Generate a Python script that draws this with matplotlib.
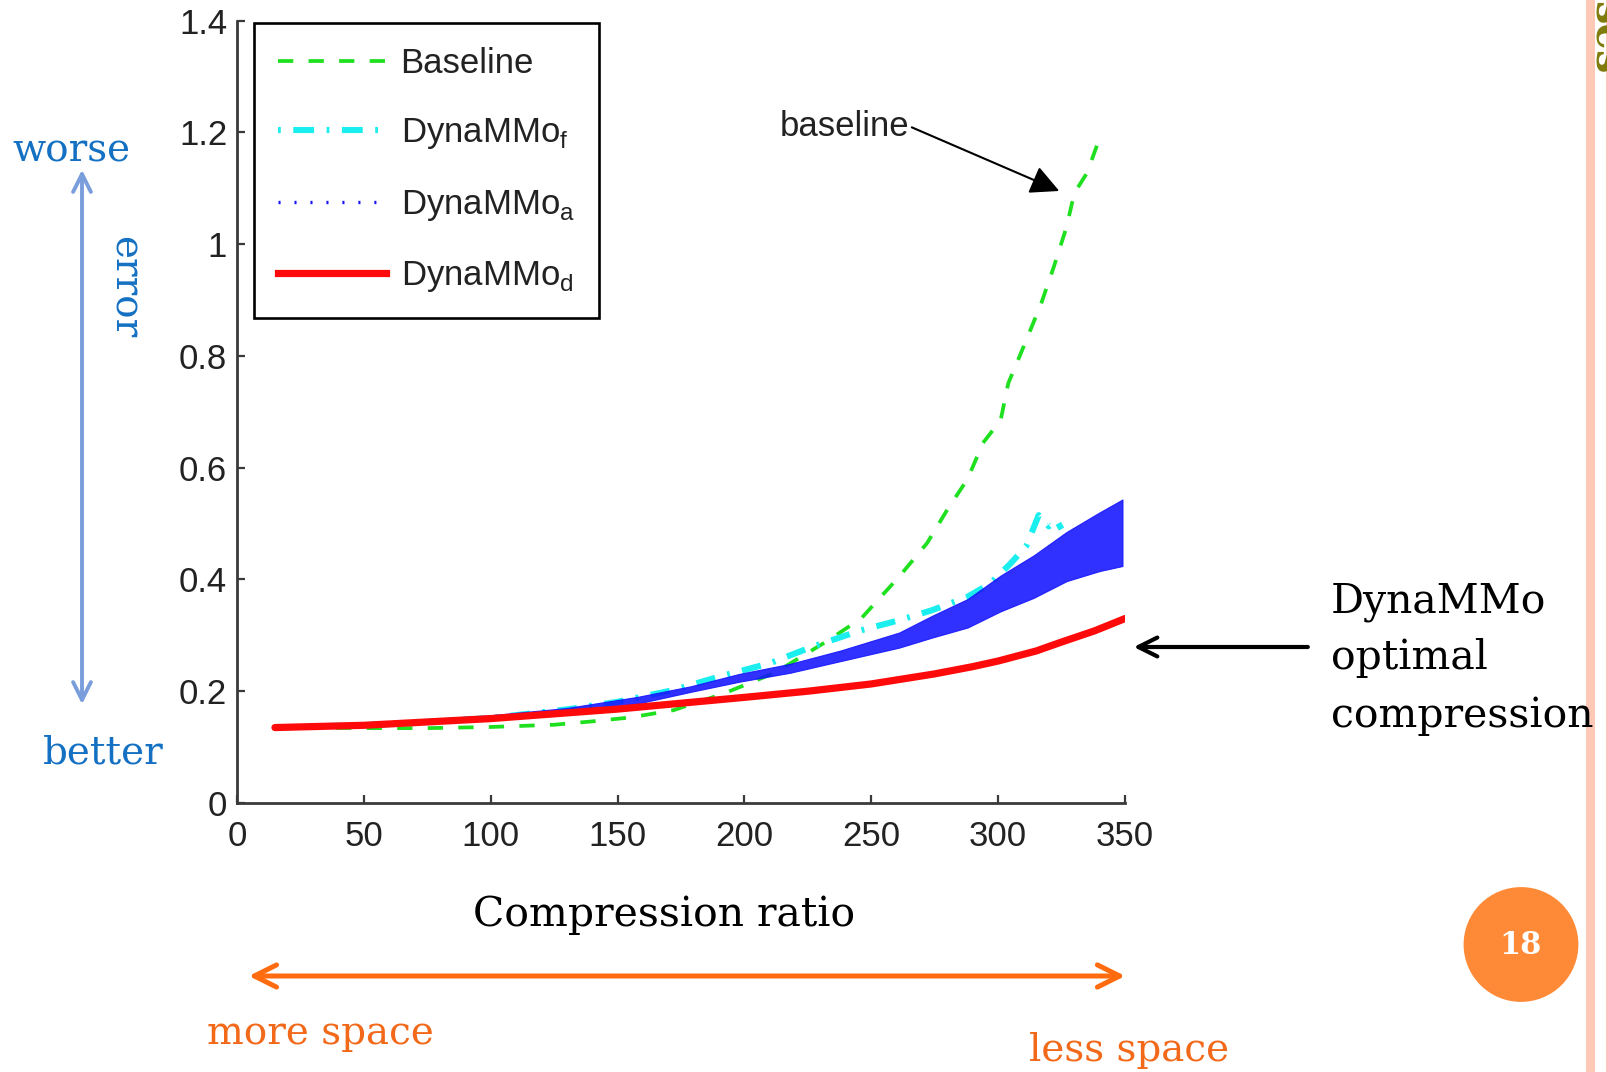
import matplotlib
matplotlib.use('Agg')
import matplotlib.pyplot as plt
from matplotlib.patches import FancyArrowPatch, Circle, Rectangle
from matplotlib.lines import Line2D

# ---------------- data ----------------
base_x = [15, 50, 75, 100, 125, 140, 155, 172, 192, 212, 232, 246, 261, 272, 280,
          288, 294, 301, 304, 310, 317, 322, 327, 330, 335, 339]
base_y = [0.135, 0.134, 0.134, 0.136, 0.140, 0.146, 0.153, 0.166, 0.196, 0.233, 0.288,
          0.330, 0.405, 0.465, 0.525, 0.580, 0.644, 0.685, 0.751, 0.816, 0.894, 0.960,
          1.031, 1.091, 1.127, 1.177]

f_x = [15, 60, 100, 131, 150, 172, 190, 210, 227, 246, 261, 274, 288, 297, 305, 311,
       316, 320, 323, 325]
f_y = [0.135, 0.141, 0.152, 0.168, 0.181, 0.202, 0.226, 0.250, 0.280, 0.309, 0.327,
       0.345, 0.369, 0.393, 0.429, 0.459, 0.515, 0.495, 0.506, 0.490]

a_x = [15, 50, 100, 130, 158, 179, 198, 218, 238, 261, 274, 288, 301, 314, 327, 340, 349]
a_lo = [0.133, 0.137, 0.150, 0.162, 0.178, 0.199, 0.217, 0.233, 0.254, 0.278,
        0.296, 0.314, 0.343, 0.367, 0.397, 0.415, 0.424]
a_hi = [0.138, 0.143, 0.157, 0.170, 0.190, 0.209, 0.231, 0.249, 0.273, 0.305,
        0.335, 0.365, 0.407, 0.443, 0.485, 0.520, 0.543]

d_x = [15, 50, 100, 150, 200, 225, 250, 275, 290, 300, 315, 325, 338, 350]
d_y = [0.135, 0.139, 0.151, 0.168, 0.189, 0.200, 0.213, 0.231, 0.244, 0.254, 0.272,
       0.288, 0.308, 0.330]

x_ticks = [0, 50, 100, 150, 200, 250, 300, 350]
y_ticks = [0, 0.2, 0.4, 0.6, 0.8, 1.0, 1.2, 1.4]
y_tick_labels = ['0', '0.2', '0.4', '0.6', '0.8', '1', '1.2', '1.4']
series_labels = ['Baseline', r'DynaMMo$_\mathregular{f}$',
                 r'DynaMMo$_\mathregular{a}$', r'DynaMMo$_\mathregular{d}$']

# ---------------- style ----------------
plt.rcParams['font.family'] = ['Liberation Sans', 'DejaVu Sans']
plt.rcParams['mathtext.fontset'] = 'custom'
plt.rcParams['mathtext.rm'] = 'Liberation Sans'
plt.rcParams['lines.scale_dashes'] = False

GREEN = '#1ee01e'
CYAN = '#1aeeee'
BLUE = '#1414ff'
RED = '#ff0a0a'
SERIF = ['DejaVu Serif']
SLIDE_BLUE = '#1470c2'
ORANGE = '#f2691a'

W, H = 1608, 1072
fig = plt.figure(figsize=(W / 100, H / 100), dpi=100)
ax = fig.add_axes([236.9 / W, 1 - 803 / H, (1125 - 236.9) / W, (803 - 20.5) / H])

ax.plot(base_x, base_y, color=GREEN, lw=2.7, dashes=(11, 11), zorder=2)
ax.plot(f_x, f_y, color=CYAN, lw=4.4, dashes=(14, 9, 2, 9), zorder=3)
ax.fill_between(a_x, a_lo, a_hi, color=BLUE, lw=0.8, alpha=0.88, zorder=4)
ax.plot(d_x, d_y, color=RED, lw=5.2, solid_capstyle='round', zorder=5)

ax.set_xlim(0, 350)
ax.set_ylim(0, 1.4)
ax.set_xticks(x_ticks)
ax.set_yticks(y_ticks)
ax.set_yticklabels(y_tick_labels)
for s in ['top', 'right']:
    ax.spines[s].set_visible(False)
for s in ['left', 'bottom']:
    ax.spines[s].set_linewidth(2)
    ax.spines[s].set_color('#3a3a3a')
ax.tick_params(direction='in', length=6, width=1.6, color='#3a3a3a',
               labelsize=25, labelcolor='#222222')
ax.tick_params(axis='x', pad=12)
ax.tick_params(axis='y', pad=7)

handles = [Line2D([], [], color=GREEN, lw=2.7, dashes=(11, 11)),
           Line2D([], [], color=CYAN, lw=4.4, dashes=(2, 9, 15, 9)),
           Line2D([], [], color=BLUE, lw=2.4, dashes=(1.5, 10)),
           Line2D([], [], color=RED, lw=5.2)]
leg = ax.legend(handles, series_labels, loc='upper left',
                bbox_to_anchor=((254 - 236.9) / 888.1, 1 - 2 / 782.5),
                borderaxespad=0, fontsize=25, handlelength=3.1, handletextpad=0.42,
                labelspacing=1.05, borderpad=0.7, frameon=True, fancybox=False,
                framealpha=1, edgecolor='black')
leg.get_frame().set_linewidth(1.9)
for t in leg.get_texts():
    t.set_color('#222222')

ax.annotate('baseline', xy=(324.1, 1.095), xytext=(213.8, 1.211),
            ha='left', va='center', fontsize=25, color='#222222',
            arrowprops=dict(arrowstyle='-|>', color='black', lw=1.5,
                            mutation_scale=44, shrinkA=0, shrinkB=0, relpos=(1, 0.5)))

# ---------------- slide decorations (pixel overlay) ----------------
ov = fig.add_axes([0, 0, 1, 1], zorder=10)
ov.set_xlim(0, W)
ov.set_ylim(H, 0)
ov.axis('off')
ov.patch.set_alpha(0)

ov.add_patch(Rectangle((1586.5, 0), 8.5, H, color='#fdc8b5', lw=0))
ov.add_patch(Rectangle((1606, 0), 2, H, color='#fdc8b5', lw=0))
ov.text(1606, 38, 'ses', rotation=-90, color='#7f7b0c', fontsize=30,
        fontweight='bold', family=SERIF, ha='center', va='center')

ov.text(664, 926, 'Compression ratio', family=SERIF, fontsize=29.5, color='black',
        ha='center', va='baseline')

ov.text(71.5, 161, 'worse', family=SERIF, fontsize=28, color=SLIDE_BLUE,
        ha='center', va='baseline')
ov.text(103.5, 764, 'better', family=SERIF, fontsize=28, color=SLIDE_BLUE,
        ha='center', va='baseline')
ov.text(124, 287, 'error', family=SERIF, fontsize=28, color=SLIDE_BLUE,
        ha='center', va='center', rotation=-90)
ov.add_patch(FancyArrowPatch((82, 167), (82, 707), arrowstyle='<->',
                             mutation_scale=32, lw=2.8, color='#7a9ddb'))

ov.add_patch(FancyArrowPatch((246, 976), (1128, 976), arrowstyle='<->',
                             mutation_scale=40, lw=3.6, color='#ff6c10'))
ov.text(320.5, 1044, 'more space', family=SERIF, fontsize=28, color=ORANGE,
        ha='center', va='baseline')
ov.text(1129.5, 1061, 'less space', family=SERIF, fontsize=28, color=ORANGE,
        ha='center', va='baseline')

ov.add_patch(FancyArrowPatch((1310.6, 647), (1131, 647), arrowstyle='->',
                             mutation_scale=34, lw=3.0, color='black'))
for txt, yb in [('DynaMMo', 612), ('optimal', 669), ('compression', 727)]:
    ov.text(1331, yb, txt, family=SERIF, fontsize=29.5, color='black',
            ha='left', va='baseline')

ov.add_patch(Circle((1521, 944.5), 57.4, color='#fe8a37', lw=0))
ov.text(1521, 945, '18', family=SERIF, fontsize=22, fontweight='bold',
        color='white', ha='center', va='center')

fig.savefig('out.png', dpi=100)
